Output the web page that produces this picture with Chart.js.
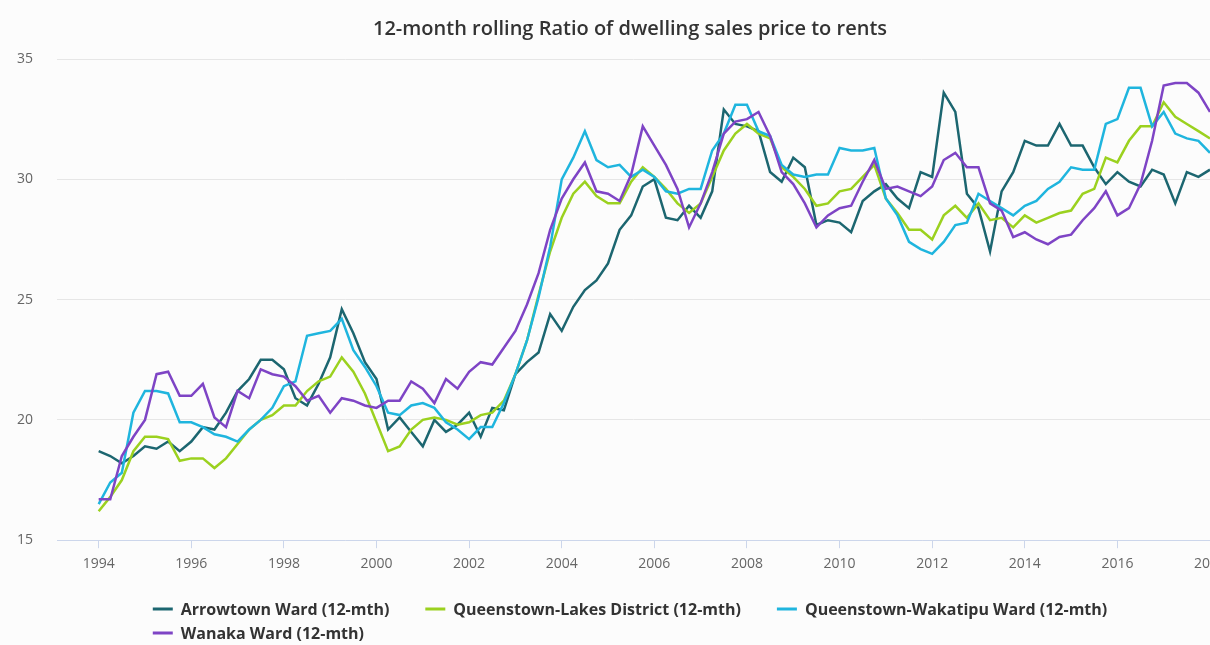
<!DOCTYPE html>
<html lang="en">
<head>
<meta charset="utf-8">
<title>12-month rolling Ratio of dwelling sales price to rents</title>
<script src="https://cdn.jsdelivr.net/npm/chart.js@4.4.1/dist/chart.umd.min.js"></script>
<style>
  html, body { margin: 0; padding: 0; overflow: hidden; background: #fcfcfc; }
  canvas { display: block; }
</style>
</head>
<body>
<canvas id="ratioChart" width="1260" height="645"></canvas>
<script>
// quarterly values, first point = 1994
const firstYear = 1994;

const arrowtown = [
  18.7, 18.5, 18.2, 18.5, 18.9, 18.8, 19.1, 18.7, 19.1, 19.7, 19.6, 20.3, 21.2, 21.7, 22.5, 22.5,
  22.1, 20.9, 20.6, 21.5, 22.6, 24.6, 23.6, 22.4, 21.7, 19.6, 20.1, 19.5, 18.9, 20.0, 19.5, 19.8,
  20.3, 19.3, 20.5, 20.4, 21.9, 22.4, 22.8, 24.4, 23.7, 24.7, 25.4, 25.8, 26.5, 27.9, 28.5, 29.7,
  30.0, 28.4, 28.3, 28.9, 28.4, 29.5, 32.9, 32.3, 32.2, 32.0, 30.3, 29.9, 30.9, 30.5, 28.1, 28.3,
  28.2, 27.8, 29.1, 29.5, 29.8, 29.2, 28.8, 30.3, 30.1, 33.6, 32.8, 29.4, 28.8, 27.0, 29.5, 30.3,
  31.6, 31.4, 31.4, 32.3, 31.4, 31.4, 30.5, 29.8, 30.3, 29.9, 29.7, 30.4, 30.2, 29.0, 30.3, 30.1,
  30.4
];
const lakesDistrict = [
  16.2, 16.8, 17.5, 18.7, 19.3, 19.3, 19.2, 18.3, 18.4, 18.4, 18.0, 18.4, 19.0, 19.6, 20.0, 20.2,
  20.6, 20.6, 21.2, 21.6, 21.8, 22.6, 22.0, 21.1, 19.9, 18.7, 18.9, 19.6, 20.0, 20.1, 20.0, 19.8,
  19.9, 20.2, 20.3, 20.8, 21.9, 23.3, 25.2, 27.0, 28.4, 29.4, 29.9, 29.3, 29.0, 29.0, 29.9, 30.5,
  30.1, 29.6, 29.0, 28.6, 29.0, 30.1, 31.2, 31.9, 32.3, 31.9, 31.7, 30.5, 30.1, 29.6, 28.9, 29.0,
  29.5, 29.6, 30.1, 30.6, 29.2, 28.6, 27.9, 27.9, 27.5, 28.5, 28.9, 28.4, 29.0, 28.3, 28.4, 28.0,
  28.5, 28.2, 28.4, 28.6, 28.7, 29.4, 29.6, 30.9, 30.7, 31.6, 32.2, 32.2, 33.2, 32.6, 32.3, 32.0,
  31.7
];
const wakatipu = [
  16.5, 17.4, 17.8, 20.3, 21.2, 21.2, 21.1, 19.9, 19.9, 19.7, 19.4, 19.3, 19.1, 19.6, 20.0, 20.5,
  21.4, 21.6, 23.5, 23.6, 23.7, 24.2, 22.9, 22.2, 21.4, 20.3, 20.2, 20.6, 20.7, 20.5, 19.9, 19.6,
  19.2, 19.7, 19.7, 20.7, 21.9, 23.3, 25.1, 27.2, 30.0, 30.9, 32.0, 30.8, 30.5, 30.6, 30.1, 30.4,
  30.1, 29.5, 29.4, 29.6, 29.6, 31.2, 31.9, 33.1, 33.1, 32.0, 31.8, 30.6, 30.2, 30.1, 30.2, 30.2,
  31.3, 31.2, 31.2, 31.3, 29.2, 28.5, 27.4, 27.1, 26.9, 27.4, 28.1, 28.2, 29.4, 29.1, 28.8, 28.5,
  28.9, 29.1, 29.6, 29.9, 30.5, 30.4, 30.4, 32.3, 32.5, 33.8, 33.8, 32.2, 32.8, 31.9, 31.7, 31.6,
  31.1
];
const wanaka = [
  16.7, 16.7, 18.5, 19.3, 20.0, 21.9, 22.0, 21.0, 21.0, 21.5, 20.1, 19.7, 21.2, 20.9, 22.1, 21.9,
  21.8, 21.4, 20.8, 21.0, 20.3, 20.9, 20.8, 20.6, 20.5, 20.8, 20.8, 21.6, 21.3, 20.7, 21.7, 21.3,
  22.0, 22.4, 22.3, 23.0, 23.7, 24.8, 26.1, 27.9, 29.2, 30.0, 30.7, 29.5, 29.4, 29.1, 30.2, 32.2,
  31.4, 30.6, 29.6, 28.0, 29.0, 30.3, 31.9, 32.4, 32.5, 32.8, 31.8, 30.3, 29.8, 29.0, 28.0, 28.5,
  28.8, 28.9, 29.9, 30.8, 29.6, 29.7, 29.5, 29.3, 29.7, 30.8, 31.1, 30.5, 30.5, 29.0, 28.7, 27.6,
  27.8, 27.5, 27.3, 27.6, 27.7, 28.3, 28.8, 29.5, 28.5, 28.8, 29.8, 31.6, 33.9, 34.0, 34.0, 33.6,
  32.8
];

const seriesNames = [
  'Arrowtown Ward (12-mth)',
  'Queenstown-Lakes District (12-mth)',
  'Queenstown-Wakatipu Ward (12-mth)',
  'Wanaka Ward (12-mth)'
];
const seriesColors = ['#1c6670', '#9bd11f', '#1fb5de', '#7e44c5'];
const xTickYears = [1994, 1996, 1998, 2000, 2002, 2004, 2006, 2008, 2010, 2012, 2014, 2016, 2018];
const yTickValues = [15, 20, 25, 30, 35];

const quarterYears = arrowtown.map((_, i) => firstYear + i / 4);
const allSeries = [arrowtown, lakesDistrict, wakatipu, wanaka];

// legend rows as in the original: three items, then Wanaka below the first one
const legendRows = [[0, 1, 2], [3]];
const bottomLegend = {
  id: 'bottomLegend',
  afterDraw(chart) {
    const ctx = chart.ctx;
    const sets = chart.data.datasets;
    const lineW = 20, textGap = 8, itemGap = 36;
    ctx.save();
    ctx.font = 'bold 16px "Open Sans"';
    ctx.textBaseline = 'middle';
    const widths = sets.map(d => lineW + textGap + ctx.measureText(d.label).width);
    const first = legendRows[0].reduce((s, i) => s + widths[i], 0) + itemGap * (legendRows[0].length - 1);
    const center = (chart.titleBlock.left + chart.titleBlock.right) / 2;
    const startX = center - first / 2;
    legendRows.forEach((row, r) => {
      let x = startX;
      const y = chart.height - 36 + r * 24;
      row.forEach(i => {
        ctx.strokeStyle = sets[i].borderColor;
        ctx.lineWidth = 3;
        ctx.beginPath();
        ctx.moveTo(x, y);
        ctx.lineTo(x + lineW, y);
        ctx.stroke();
        ctx.fillStyle = '#333';
        ctx.fillText(sets[i].label, x + lineW + textGap, y + 1);
        x += widths[i] + itemGap;
      });
    });
    ctx.restore();
  }
};

Chart.defaults.font.family = '"Open Sans", sans-serif';

new Chart(document.getElementById('ratioChart'), {
  type: 'line',
  data: {
    labels: quarterYears,
    datasets: allSeries.map((values, i) => ({
      label: seriesNames[i],
      data: values,
      borderColor: seriesColors[i],
      backgroundColor: seriesColors[i],
      borderWidth: 2.5,
      pointRadius: 0,
      tension: 0,
      order: allSeries.length - i
    }))
  },
  options: {
    responsive: false,
    animation: false,
    layout: { padding: { left: 50, right: 50, top: 0, bottom: 66 } },
    plugins: {
      legend: { display: false },
      tooltip: { enabled: false },
      title: {
        display: true,
        text: '12-month rolling Ratio of dwelling sales price to rents',
        color: '#333',
        font: { size: 20, weight: '600' },
        padding: { top: 17, bottom: 18 }
      }
    },
    scales: {
      x: {
        type: 'linear',
        min: 1993.1,
        max: 2018,
        afterBuildTicks: axis => { axis.ticks = xTickYears.map(v => ({ value: v })); },
        grid: { drawOnChartArea: false, drawTicks: true, tickLength: 8, color: '#ccd6eb' },
        border: { color: '#ccd6eb' },
        ticks: {
          color: '#666',
          font: { size: 14 },
          padding: 7,
          maxRotation: 0,
          autoSkip: false,
          callback: v => String(v)
        }
      },
      y: {
        min: 15,
        max: 35,
        afterBuildTicks: axis => { axis.ticks = yTickValues.map(v => ({ value: v })); },
        afterFit: axis => { axis.width = 7; },
        grid: { color: '#e6e6e6', drawTicks: false },
        border: { display: false },
        // mirrored labels pushed back left of the plot (not clipped to the thin axis box)
        ticks: { color: '#666', font: { size: 14 }, mirror: true, crossAlign: 'near', padding: -40 }
      }
    }
  },
  plugins: [bottomLegend]
});
</script>
</body>
</html>
